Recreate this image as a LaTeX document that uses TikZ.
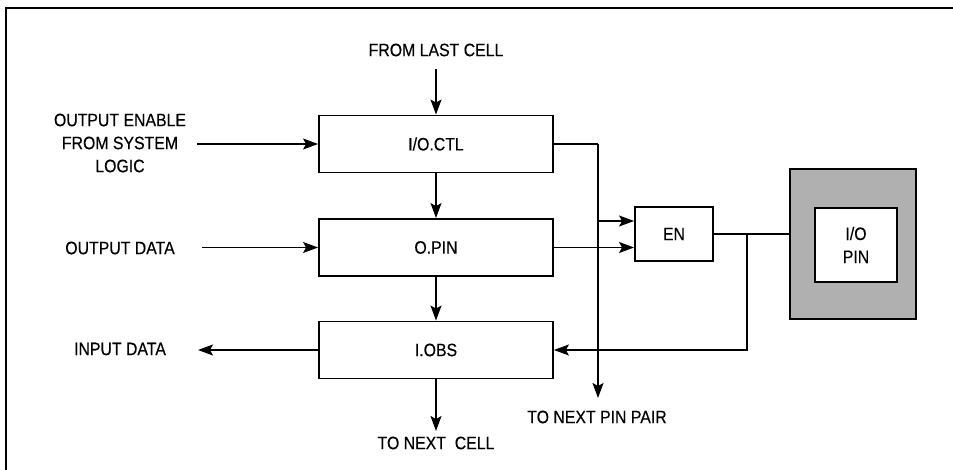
\documentclass[tikz,border=0pt]{standalone}
\usepackage{fontspec}
\setmainfont{Liberation Sans}[FakeStretch=0.88,FakeBold=0.4]
\usetikzlibrary{arrows.meta}
\begin{document}
\begin{tikzpicture}[x=1pt,y=-1pt,
  blk/.style={draw,line width=1.9pt,minimum width=234pt,minimum height=57pt,inner sep=0pt,font=\fontsize{18}{22}\selectfont},
  lbl/.style={font=\fontsize{18}{23}\selectfont,inner sep=0pt,align=center},
  wire/.style={line width=1.2pt},
  arr/.style={wire,-{Stealth[length=15pt,width=11pt,inset=3pt]}}]
\useasboundingbox (0,0) rectangle (953,470);
\draw[line width=1.4pt] (6,470) -- (6,8) -- (953,8);
% blocks
\node[blk] (ctl) at (436,144) {I/O.CTL};
\node[blk] (opin) at (436,247.5) {O.PIN};
\node[blk] (iobs) at (436,350) {I.OBS};
\node[blk,minimum width=78pt,minimum height=54pt] (en) at (674,234) {EN};
\node[draw,line width=1.9pt,fill=black!31,minimum width=126pt,minimum height=150pt] (pinouter) at (853,244) {};
\node[lbl,draw,line width=1.9pt,fill=white,minimum width=82pt,minimum height=74pt] (pin) at (856,245) {I/O\\PIN};
% labels
\node[lbl] (fromlast) at (436,50) {FROM LAST CELL};
\node[lbl] (oe) at (120,143) {OUTPUT ENABLE\\FROM SYSTEM\\LOGIC};
\node[lbl] (od) at (120,248) {OUTPUT DATA};
\node[lbl] (id) at (120,349) {INPUT DATA};
\node[lbl] (tnc) at (436,443) {TO NEXT\ \ CELL};
\node[lbl] (tnp) at (597,417) {TO NEXT PIN PAIR};
% coordinates
\coordinate (lastS) at (436,69);
\coordinate (oeS) at (197,144);
\coordinate (odS) at (202,247.5);
\coordinate (idE) at (198,350);
\coordinate (tncE) at (436,431);
\coordinate (j1) at (598,144);
\coordinate (j2) at (598,221);
\coordinate (tnpE) at (598,398);
\coordinate (j3) at (747,234);
% connectors
\draw[arr] (lastS) -- (ctl.north);
\draw[arr] (oeS) -- (ctl.west);
\draw[arr] (odS) -- (opin.west);
\draw[arr] (iobs.west) -- (idE);
\draw[arr] (ctl.south) -- (opin.north);
\draw[arr] (opin.south) -- (iobs.north);
\draw[arr] (iobs.south) -- (tncE);
\draw[wire] (ctl.east) -- (j1);
\draw[arr] (j1) -- (tnpE);
\draw[arr] (j2) -- (j2 -| en.west);
\draw[arr] (opin.east) -- (opin.east -| en.west);
\draw[wire] (en.east) -- (en.east -| pinouter.west);
\draw[arr] (j3) |- (iobs.east);
\end{tikzpicture}
\end{document}
